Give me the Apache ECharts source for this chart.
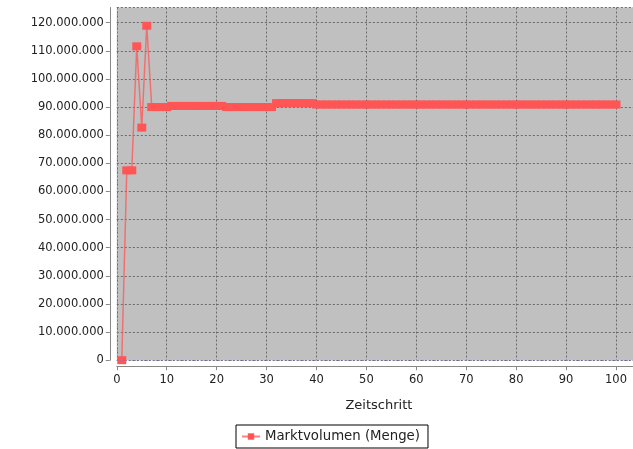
<!DOCTYPE html>
<html>
<head>
<meta charset="utf-8">
<script src="https://cdn.jsdelivr.net/npm/echarts@6/dist/echarts.min.js"></script>
<style>
html,body{margin:0;padding:0;background:#fff;}
#chart{width:633px;height:449px;}
</style>
</head>
<body>
<div id="chart"></div>
<script>
var seriesName = "Marktvolumen (Menge)";
var xAxisTitle = "Zeitschritt";
var steps = [1,2,3,4,5,6,7,8,9,10,11,12,13,14,15,16,17,18,19,20,21,22,23,24,25,26,27,28,29,30,31,32,33,34,35,36,37,38,39,40,41,42,43,44,45,46,47,48,49,50,51,52,53,54,55,56,57,58,59,60,61,62,63,64,65,66,67,68,69,70,71,72,73,74,75,76,77,78,79,80,81,82,83,84,85,86,87,88,89,90,91,92,93,94,95,96,97,98,99,100];
var volumes = [
0,67500000,67500000,111600000,82700000,118900000,
90000000,90000000,90000000,90000000,
90400000,90400000,90400000,90400000,90400000,90400000,90400000,90400000,90400000,90400000,90400000,
90000000,90000000,90000000,90000000,90000000,90000000,90000000,90000000,90000000,90000000,
91400000,91400000,91400000,91400000,91400000,91400000,91400000,91400000,
90900000,90900000,90900000,90900000,90900000,90900000,90900000,90900000,90900000,90900000,
90900000,90900000,90900000,90900000,90900000,90900000,90900000,90900000,90900000,90900000,
90900000,90900000,90900000,90900000,90900000,90900000,90900000,90900000,90900000,90900000,
90900000,90900000,90900000,90900000,90900000,90900000,90900000,90900000,90900000,90900000,
90900000,90900000,90900000,90900000,90900000,90900000,90900000,90900000,90900000,90900000,
90900000,90900000,90900000,90900000,90900000,90900000,90900000,90900000,90900000,90900000,
90900000
];

function fmtDE(v){
  var s = String(Math.round(v));
  return s.replace(/\B(?=(\d{3})+(?!\d))/g, ".");
}

var pairs = steps.map(function(s,i){ return [s, volumes[i]]; });

var chart = echarts.init(document.getElementById('chart'), null, {renderer:'canvas'});
var font = "DejaVu Sans";
chart.setOption({
  animation:false,
  backgroundColor:'#ffffff',
  textStyle:{fontFamily:font},
  grid:{left:116.8, right:0, top:7.5, bottom:88.8, show:true, backgroundColor:'#c0c0c0', borderWidth:0},
  xAxis:{
    type:'value', min:0, max:103.4, interval:10, offset:6,
    name:xAxisTitle, nameLocation:'middle', nameGap:33,
    nameTextStyle:{color:'#222', fontSize:13, fontFamily:font, padding:[0,0,0,8]},
    axisLine:{show:true, onZero:false, lineStyle:{color:'#888'}},
    axisTick:{show:true, length:4, lineStyle:{color:'#888'}},
    axisLabel:{color:'#222', fontSize:11.5, fontFamily:font, margin:8, showMaxLabel:false},
    splitLine:{show:true, lineStyle:{color:'#6a6a6a', width:1, type:[2,2]}}
  },
  yAxis:{
    type:'value', min:0, max:125400000, interval:10000000, offset:7,
    axisLine:{show:true, onZero:false, lineStyle:{color:'#888'}},
    axisTick:{show:true, length:4, lineStyle:{color:'#888'}},
    axisLabel:{color:'#222', fontSize:11.5, fontFamily:font, margin:6, showMaxLabel:false, formatter:fmtDE},
    splitLine:{show:true, lineStyle:{color:'#6a6a6a', width:1, type:[2,2]}}
  },
  legend:{
    show:true, left:236, top:425, orient:'horizontal',
    data:[seriesName],
    itemWidth:18, itemHeight:8, itemGap:4,
    padding:[5,8,5,5],
    borderColor:'#000', borderWidth:1, backgroundColor:'#fff',
    textStyle:{color:'#222', fontSize:13.3, fontFamily:font}
  },
  series:[{
    name:seriesName, type:'line', data:pairs,
    symbol:'rect', symbolSize:[9,8],
    itemStyle:{color:'#ff5555'},
    lineStyle:{color:'rgba(255,85,85,0.75)', width:1.5},
    markLine:{
      silent:true, symbol:['none','none'], label:{show:false},
      lineStyle:{color:'#7a7ab8', type:[1,2], width:1},
      data:[{xAxis:0},{yAxis:0}]
    }
  }]
});
</script>
</body>
</html>
